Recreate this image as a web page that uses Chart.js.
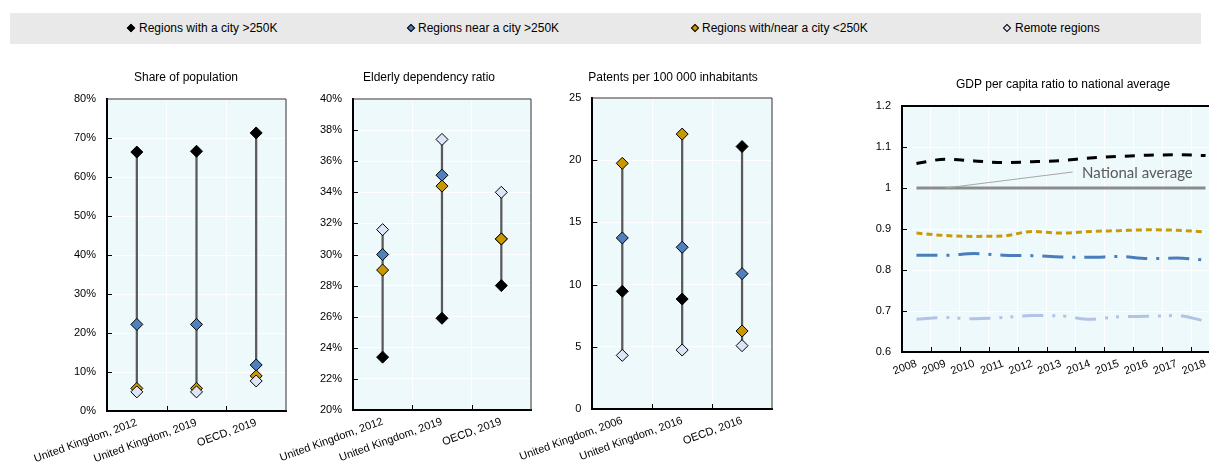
<!DOCTYPE html>
<html>
<head>
<meta charset="utf-8">
<script src="https://cdn.jsdelivr.net/npm/chart.js@4.4.1/dist/chart.umd.min.js"></script>
<style>
  html, body { margin: 0; padding: 0; background: #fff; width: 1209px; height: 471px; overflow: hidden; position: relative;
    font-family: "Liberation Sans", Arial, Helvetica, sans-serif; }
  .legend { position: absolute; left: 10px; top: 13px; width: 1191px; height: 31px; background: #e9e9e9; }
  .item { position: absolute; top: 0; height: 31px; line-height: 31px; font-size: 12px; color: #000; white-space: nowrap; }
  .dia { position: absolute; left: 1px; top: 12px; width: 6px; height: 6px; transform: rotate(45deg); box-sizing: border-box; border: 1px solid #000; }
  .txt { position: absolute; top: 0; }
  canvas { position: absolute; }
</style>
</head>
<body>
<div class="legend">
  <div class="item" style="left:117px"><span class="dia" style="background:#000"></span><span class="txt" style="left:12px">Regions with a city &gt;250K</span></div>
  <div class="item" style="left:397px"><span class="dia" style="background:#4f81bd"></span><span class="txt" style="left:11px">Regions near a city &gt;250K</span></div>
  <div class="item" style="left:681px"><span class="dia" style="background:#c99700"></span><span class="txt" style="left:11px">Regions with/near a city &lt;250K</span></div>
  <div class="item" style="left:993px"><span class="dia" style="background:#dde4f6"></span><span class="txt" style="left:12px">Remote regions</span></div>
</div>

<canvas id="pop" width="300" height="411" style="left:0px;top:60px;width:300px;height:411px"></canvas>
<canvas id="eld" width="285" height="411" style="left:260px;top:60px;width:285px;height:411px"></canvas>
<canvas id="pat" width="286" height="411" style="left:500px;top:60px;width:286px;height:411px"></canvas>
<canvas id="gdp" width="390" height="411" style="left:850px;top:60px;width:390px;height:411px"></canvas>

<script>
// ---- Share of population (%) ----
const popCategories = ['United Kingdom, 2012', 'United Kingdom, 2019', 'OECD, 2019'];
const popCityLarge = [66.4, 66.6, 71.3];
const popNearLarge = [22.2, 22.2, 11.8];
const popSmall     = [5.8, 5.8, 9.0];
const popRemote    = [4.9, 4.9, 7.7];

// ---- Elderly dependency ratio (%) ----
const eldCategories = ['United Kingdom, 2012', 'United Kingdom, 2019', 'OECD, 2019'];
const eldCityLarge = [23.4, 25.9, 28.0];
const eldNearLarge = [30.0, 35.1, 31.0];
const eldSmall     = [29.0, 34.4, 31.0];
const eldRemote    = [31.6, 37.4, 34.0];

// ---- Patents per 100 000 inhabitants ----
const patCategories = ['United Kingdom, 2006', 'United Kingdom, 2016', 'OECD, 2016'];
const patCityLarge = [9.46, 8.84, 21.1];
const patNearLarge = [13.75, 13.0, 10.88];
const patSmall     = [19.75, 22.1, 6.27];
const patRemote    = [4.31, 4.74, 5.09];

// ---- GDP per capita ratio to national average ----
const gdpYears = ['2008', '2009', '2010', '2011', '2012', '2013', '2014', '2015', '2016', '2017', '2018'];
const gdpCityLarge = [1.060, 1.070, 1.066, 1.062, 1.064, 1.067, 1.073, 1.077, 1.080, 1.081, 1.079];
const gdpSmall     = [0.890, 0.884, 0.882, 0.883, 0.894, 0.890, 0.894, 0.896, 0.898, 0.897, 0.893];
const gdpNearLarge = [0.836, 0.836, 0.840, 0.836, 0.835, 0.832, 0.831, 0.833, 0.828, 0.829, 0.824];
const gdpRemote    = [0.680, 0.684, 0.681, 0.684, 0.689, 0.688, 0.680, 0.686, 0.687, 0.689, 0.675];
const gdpNational  = [1, 1, 1, 1, 1, 1, 1, 1, 1, 1, 1];

const seriesNames = ['Regions with a city >250K', 'Regions near a city >250K', 'Regions with/near a city <250K', 'Remote regions'];

const MARKER = { cityLarge: '#000000', nearLarge: '#4f81bd', small: '#c99700', remote: '#dde4f6' };
const LINE = { cityLarge: '#000000', nearLarge: '#4a7ebb', small: '#c99a06', remote: '#b3c3e6', national: '#8c8c8c' };
const PLOT_BG = '#eef9fc';
const FONT = '"Liberation Sans", Arial, Helvetica, sans-serif';

Chart.defaults.font.family = FONT;
Chart.defaults.color = '#000';

// background, frame, inward tick marks and panel heading
function decor(title, tx, ty, frame) {
  return {
    id: 'decor',
    beforeDraw(chart) {
      const { ctx, chartArea: a } = chart;
      ctx.save();
      ctx.fillStyle = PLOT_BG;
      ctx.fillRect(a.left, a.top, a.right - a.left, a.bottom - a.top);
      ctx.restore();
    },
    afterDraw(chart) {
      const { ctx, chartArea: a, scales: { x, y } } = chart;
      ctx.save();
      ctx.strokeStyle = frame.color;
      ctx.lineWidth = frame.width;
      ctx.beginPath();
      ctx.moveTo(a.left, a.top);
      ctx.lineTo(a.right, a.top);
      ctx.lineTo(a.right, a.bottom);
      ctx.stroke();

      ctx.strokeStyle = '#000';
      ctx.lineWidth = 1;
      ctx.beginPath();
      const n = x.getLabels().length;
      for (let i = 1; i < n; i++) {
        const px = Math.round((x.getPixelForValue(i - 1) + x.getPixelForValue(i)) / 2) + 0.5;
        ctx.moveTo(px, a.bottom);
        ctx.lineTo(px, a.bottom - 5);
      }
      y.ticks.forEach(t => {
        if (t.value > y.min + 1e-9 && t.value < y.max - 1e-9) {
          const py = Math.round(y.getPixelForValue(t.value)) + 0.5;
          ctx.moveTo(a.left, py);
          ctx.lineTo(a.left + 5, py);
        }
      });
      ctx.stroke();

      ctx.fillStyle = '#000';
      ctx.font = '12px ' + FONT;
      ctx.textAlign = 'center';
      ctx.textBaseline = 'middle';
      ctx.fillText(title, tx, ty);
      ctx.restore();
    }
  };
}

function axisX(height, rotation) {
  return {
    offset: true,
    grid: { color: '#ffffff', lineWidth: 1, drawTicks: false, offset: true },
    border: { color: '#000', width: 2 },
    ticks: { font: { size: 11 }, color: '#000', minRotation: rotation, maxRotation: rotation, autoSkip: false, padding: 5 },
    afterFit(s) { s.height = height; }
  };
}

function axisY(width, min, max, step, fmt) {
  return {
    min, max,
    grid: { color: '#ffffff', lineWidth: 1, drawTicks: false },
    border: { color: '#000', width: 2 },
    ticks: { stepSize: step, font: { size: 11 }, color: '#000', padding: 11, callback: fmt },
    afterFit(s) { s.width = width; }
  };
}

function dotPanel(id, labels, s, yAxis, g, title) {
  const ranges = labels.map((_, i) => {
    const v = [s.cityLarge[i], s.nearLarge[i], s.small[i], s.remote[i]];
    return [Math.min(...v), Math.max(...v)];
  });
  const pts = (label, data, color, order) => ({
    type: 'line', label, data, showLine: false, order,
    pointStyle: 'rectRot', pointRadius: 6, pointHoverRadius: 6,
    pointBackgroundColor: color, pointBorderColor: '#000', pointBorderWidth: 1
  });
  new Chart(document.getElementById(id), {
    type: 'bar',
    data: {
      labels,
      datasets: [
        { type: 'bar', label: 'range', data: ranges, backgroundColor: '#5a5a5a', barThickness: 1.6, order: 5 },
        pts(seriesNames[0], s.cityLarge, MARKER.cityLarge, 4),
        pts(seriesNames[1], s.nearLarge, MARKER.nearLarge, 3),
        pts(seriesNames[2], s.small, MARKER.small, 2),
        pts(seriesNames[3], s.remote, MARKER.remote, 1)
      ]
    },
    options: {
      responsive: false, animation: false, events: [],
      layout: { padding: { left: g.padL, right: g.padR, top: g.padT, bottom: 0 } },
      plugins: { legend: { display: false }, tooltip: { enabled: false } },
      scales: { x: axisX(g.xH, 20), y: yAxis }
    },
    plugins: [decor(title, g.tx, g.ty, { color: '#333', width: 1 })]
  });
}

const pct = v => v + '%';

dotPanel('pop', popCategories,
  { cityLarge: popCityLarge, nearLarge: popNearLarge, small: popSmall, remote: popRemote },
  axisY(67, 0, 80, 10, pct),
  { padL: 40, padR: 14, padT: 39, xH: 60, tx: 186, ty: 18 },
  'Share of population');

dotPanel('eld', eldCategories,
  { cityLarge: eldCityLarge, nearLarge: eldNearLarge, small: eldSmall, remote: eldRemote },
  axisY(67, 20, 40, 2, pct),
  { padL: 25, padR: 14, padT: 39, xH: 61, tx: 169, ty: 18 },
  'Elderly dependency ratio');

dotPanel('pat', patCategories,
  { cityLarge: patCityLarge, nearLarge: patNearLarge, small: patSmall, remote: patRemote },
  axisY(60, 0, 25, 5, v => v),
  { padL: 30, padR: 14, padT: 38, xH: 62, tx: 173, ty: 18 },
  'Patents per 100 000 inhabitants');

// leader line and label for the national average line
const avgLabel = {
  id: 'avgLabel',
  afterDatasetsDraw(chart) {
    const { ctx, scales: { x, y } } = chart;
    ctx.save();
    ctx.strokeStyle = '#a6a6a6';
    ctx.lineWidth = 1;
    ctx.beginPath();
    ctx.moveTo(x.getPixelForValue(1), y.getPixelForValue(1));
    ctx.lineTo(x.getPixelForValue(5.4), y.getPixelForValue(1.039));
    ctx.stroke();
    ctx.fillStyle = '#595959';
    ctx.font = '15px Lato, "Open Sans", sans-serif';
    ctx.textAlign = 'left';
    ctx.textBaseline = 'middle';
    ctx.fillText('National average', x.getPixelForValue(5.73), y.getPixelForValue(1.037));
    ctx.restore();
  }
};

const gdpLine = (label, data, color, dash) => ({
  label, data, borderColor: color, backgroundColor: color, borderWidth: 3, borderDash: dash,
  pointRadius: 0, cubicInterpolationMode: 'monotone', fill: false
});

new Chart(document.getElementById('gdp'), {
  type: 'line',
  data: {
    labels: gdpYears,
    datasets: [
      gdpLine('National average', gdpNational, LINE.national, []),
      gdpLine(seriesNames[0], gdpCityLarge, LINE.cityLarge, [10, 9]),
      gdpLine(seriesNames[1], gdpNearLarge, LINE.nearLarge, [21, 9, 3, 9]),
      gdpLine(seriesNames[2], gdpSmall, LINE.small, [6, 4]),
      gdpLine(seriesNames[3], gdpRemote, LINE.remote, [21, 9, 3, 8, 3, 9])
    ]
  },
  options: {
    responsive: false, animation: false, events: [],
    layout: { padding: { left: 10, right: 20, top: 46, bottom: 0 } },
    plugins: { legend: { display: false }, tooltip: { enabled: false } },
    scales: {
      x: axisX(119, 20),
      y: axisY(42, 0.6, 1.2, 0.1, v => Math.round(v * 10) / 10)
    }
  },
  plugins: [decor('GDP per capita ratio to national average', 213, 25, { color: '#000', width: 2 }), avgLabel]
});
</script>
</body>
</html>
